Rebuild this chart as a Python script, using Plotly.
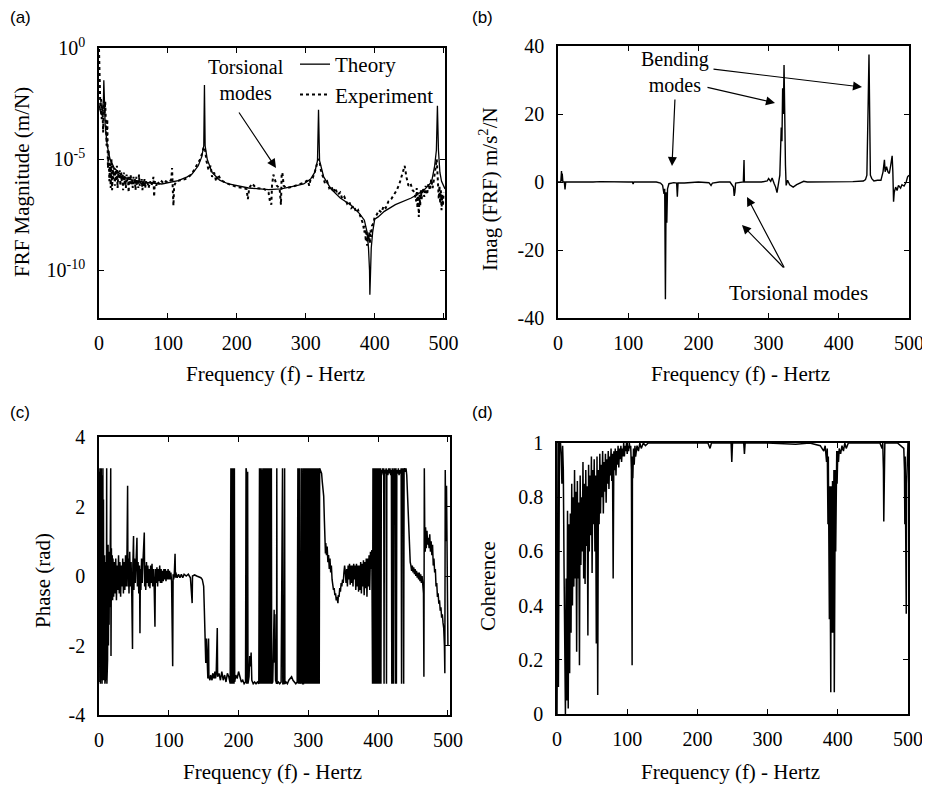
import plotly.graph_objects as go

# page body has an 8px margin, so the figure is drawn 8px smaller and coordinates shifted
OFF = 8
W, H = 930 - OFF, 788 - OFF

# ---------------- data ----------------
# (a) FRF magnitude: (frequency Hz, log10 magnitude m/N)
theory_a = [(0.5,-2.6),(3,-3.0),(5,-2.8),(6.5,-2.3),(7,-1.45),(7.5,-2.4),(9,-3.5),(12,-4.4),(16,-5.0),
    (22,-5.4),(30,-5.65),(42,-5.9),(66,-6.04),(91,-6.12),(115,-5.97),(128,-5.8),(135,-5.67),(144,-5.3),
    (149,-4.9),(152,-4.4),(153,-1.66),(154,-4.4),(157,-5.0),(164,-5.6),(175,-5.95),(188,-6.12),(217,-6.3),
    (246,-6.37),(264,-6.34),(285,-6.2),(297,-6.12),(307,-5.9),(313,-5.6),(317,-5.07),(318.5,-2.78),
    (320,-5.07),(326,-5.8),(336.5,-6.34),(350,-6.75),(365.7,-7.08),(378,-7.45),(385,-7.75),(389,-8.3),
    (391,-9.0),(392.5,-10.0),(393,-11.1),(393.5,-10.0),(395,-9.0),(397,-8.3),(400,-7.7),(405,-7.6),
    (414,-7.35),(430,-7.05),(453,-6.75),(463,-6.57),(473,-6.35),(482.5,-6.03),(487,-5.3),(489.5,-4.6),
    (491,-2.6),(492.5,-4.6),(494.6,-5.6),(497,-6.0),(502,-6.34)]

experiment_a = [(0,-0.05),(1,-2.0),(2,-2.8),(3,-2.3),(4,-3.2),(5,-2.6),(6,-3.8),(7,-2.5),(8,-3.0),(9,-2.4),
    (10,-3.6),(11,-4.4),(12,-3.2),(13,-5.4),(14,-4.6),(15,-6.0),(16,-5.2),(17,-6.3),(18,-5.0),(19,-6.4),
    (20,-5.3),(21,-5.9),(22,-5.4),(23,-6.2),(24,-5.5),(25,-6.0),(26,-5.3),(27,-6.3),(28,-5.6),(29,-5.9),
    (30,-5.5),(31,-6.2),(32,-5.6),(33,-6.0),(34,-5.7),(35,-6.4),(36,-5.6),(37,-6.1),(38,-5.8),(39,-6.3),
    (40,-5.7),(41,-6.0),(42,-5.8),(43,-6.5),(44,-5.8),(45,-6.1),(46,-5.7),(47,-6.2),(48,-5.9),(49,-6.3),
    (50,-5.8),(51,-6.1),(52,-5.9),(53,-6.4),(54,-5.8),(55,-6.2),(56,-5.9),(57,-6.3),(58,-5.7),(59,-6.2),
    (60,-6.0),(61,-6.1),(62,-5.9),(63,-6.4),(64,-6.0),(65,-6.2),(66,-5.9),(67,-6.3),(68,-6.0),(69,-6.1),
    (70,-6.0),(72,-6.3),(74,-6.0),(76,-6.2),(78,-6.0),(79,-5.8),(80,-6.7),(81,-6.0),(83,-6.2),(85,-6.0),
    (88,-6.15),(91,-6.0),(94,-6.1),(97,-6.0),(100,-6.05),(103,-6.0),(105,-5.9),(106,-5.4),(107,-6.3),
    (108,-7.1),(109,-6.2),(112,-6.0),(118,-5.95),(125,-5.9),(132,-5.75),(138,-5.5),(143,-5.2),(147,-5.0),
    (150,-4.7),(152,-4.45),(154,-4.6),(156,-5.1),(159,-5.5),(162,-5.3),(164,-5.8),(167,-5.6),(170,-6.0),
    (173,-5.7),(176,-5.9),(180,-6.0),(190,-6.15),(200,-6.25),(210,-6.3),(214,-6.35),(216,-6.8),(218,-6.3),
    (222,-6.1),(228,-6.3),(240,-6.35),(246,-6.5),(248,-6.9),(250,-7.05),(251,-6.2),(252,-5.8),(253,-5.7),
    (255,-5.9),(258,-6.2),(262,-6.3),(263,-6.9),(264,-7.05),(265,-5.7),(266,-5.6),(268,-6.2),(272,-6.3),
    (280,-6.25),(290,-6.15),(298,-6.05),(303,-5.95),(305,-6.2),(307,-5.9),(310,-5.85),(313,-5.6),
    (316,-5.3),(318,-5.0),(320,-5.1),(322,-5.5),(325,-5.8),(328,-6.1),(331,-6.0),(334,-6.3),(337,-6.2),
    (340,-6.5),(343,-6.3),(346,-6.6),(350,-6.5),(353,-6.8),(356,-6.7),(360,-7.0),(363,-6.9),(366,-7.2),
    (370,-7.1),(373,-7.4),(376,-7.3),(380,-7.6),(383,-7.9),(385,-8.3),(386,-8.0),(387,-8.7),(388,-8.2),
    (389,-8.9),(390,-8.4),(391,-8.6),(392,-8.3),(393,-8.8),(394,-8.2),(395,-8.5),(396,-8.0),(398,-7.9),
    (400,-7.6),(403,-7.5),(406,-7.3),(410,-7.4),(413,-7.1),(416,-7.2),(420,-6.9),(424,-6.8),(428,-6.6),
    (432,-6.4),(436,-6.1),(440,-5.7),(443.5,-5.3),(446,-5.8),(449,-6.2),(452,-6.1),(455,-6.4),(458,-6.5),
    (460,-6.9),(461,-6.3),(462,-7.2),(463,-6.5),(464,-7.6),(465,-6.6),(466,-7.1),(467,-6.4),(468,-6.8),
    (470,-6.3),(472,-6.7),(474,-6.2),(476,-6.6),(478,-6.1),(480,-6.4),(482,-5.9),(484,-6.3),(486,-5.9),
    (488,-5.5),(490,-5.0),(491,-5.6),(492,-6.3),(493,-6.8),(494,-6.2),(495,-7.0),(496,-6.4),(497,-7.3),
    (498,-6.6),(499,-7.1),(500,-6.5)]

# (b) Imag(FRF) m/s^2/N
imag_b = [(0,0),(4,0),(5,3.2),(5.5,0.3),(6,2.5),(7,0),(9,0),(10,-2.2),(11,0),(50,0),(60,0.1),(100,0),
    (106,0),(107,-0.6),(108,0),(140,0),(146,-0.3),(149,-1),(151,-3.5),(152,-2),(153,-34.5),(154,-3),
    (155,-12),(156,-2),(158,-0.5),(165,-0.2),(169,-0.3),(170,-4.3),(171,-0.3),(180,-0.3),(190,-0.1),
    (200,0),(215,-0.2),(218,-1),(220,-0.3),(230,0),(245,0),(250,-1.5),(251,-4.1),(252,-3),(253,-0.3),
    (260,0),(264,0),(265,6.5),(265.5,0),(268,0),(290,0),(298,0.3),(300,1.0),(303,0.2),(305,1.2),
    (308,-0.5),(310,-1.5),(312,-3.1),(314,-1),(316,2),(318,16),(319,12),(320,27.6),(321,20),(322,34.4),
    (323,12),(324,5),(325,-1),(327,0.5),(330,-0.8),(335,-1.5),(340,-0.8),(345,-0.3),(350,0.2),(355,0),
    (400,0),(420,0.1),(435,0.3),(438,0.7),(440,2),(441,10),(442,25),(443,37.5),(444,8),(445,2),(447,1),
    (450,0.3),(455,0.5),(460,0.5),(463,3),(465,6.5),(466,3),(468,4.5),(470,3),(472,2.5),(474,5),
    (476,7.7),(477,3),(478,-5.8),(479,-3),(481,-1.5),(483,-2.5),(485,-1),(488,-1.8),(490,-0.8),
    (493,-1.2),(496,0),(498,1.5),(500,2)]

# (c) Phase (rad)
phase_c = [(0,3.1),(0.4,-3.0),(0.8,3.1),(1.2,-3.05),(1.6,3.0),(2.0,-3.1),(2.4,3.1),(2.8,-3.0),(3.2,3.1),
    (3.6,-2.9),(4.0,3.0),(4.4,-3.1),(4.8,2.9),(5.2,-3.0),(5.6,3.1),(6.0,-2.8),(6.4,2.2),(6.8,-3.0),
    (7.2,1.2),(7.6,-2.6),(8,0.6),(8.5,-3.1),(9,-0.2),(9.5,-2.9),(10,0.4),(10.5,-2.2),(11,3.1),(11.3,-3.1),
    (11.8,-1.0),(12.3,-2.4),(13,0.9),(13.5,-2.0),(14,0.2),(14.5,-1.4),(15,0.7),(15.5,-0.9),(16,0.4),
    (16.8,3.1),(17.2,-2.3),(17.8,0.8),(18.3,-0.6),(19,0.6),(19.5,-0.7),(20,0.5),
    (21,-0.6),(22,0.4),(23,-0.5),(24,0.5),(25,-0.7),(26,0.3),(27,-0.4),(28,0.6),(29,-0.5),(30,0.4),
    (31,-0.6),(32,0.3),(33,-0.3),(34,0.5),(35,-0.5),(36,0.4),(37,-0.4),(38,0.6),(39,-0.3),(40,0.4),
    (41,2.6),(41.5,-0.3),(42,0.5),(43,-0.5),(44,0.7),(45,-0.3),(46,0.4),(47,-0.6),(48,-2.1),(48.5,0.3),
    (49.5,1.15),(50,-0.4),(51,0.5),(52,-0.2),(53,0.6),(54.4,1.1),(55,-0.3),(56,0.4),(57,-0.5),(58,0.3),
    (58.7,-1.65),(59.3,0.2),(60,-0.4),(61,0.5),(62,-0.2),(63,0.4),(64.9,1.25),(65.5,-0.3),(66,0.3),
    (67,-0.4),(68,0.4),(69,-0.2),(70,0.3),(71,-0.3),(72,0.2),(73,-0.35),(74,0.3),(75,-0.2),(76,0.35),
    (77,-0.3),(78,0.2),(79,-0.25),(80.2,-1.46),(80.8,0.2),(82,-0.2),(83,0.25),(84,-0.3),(85,0.2),
    (86,-0.15),(87,0.3),(88,-0.2),(89,0.2),(90,-0.2),(91,0.15),(92,-0.15),(93,0.2),(94,-0.1),(95,0.2),
    (96,-0.15),(97,0.15),(98,-0.1),(99,0.2),(100,-0.1),(101,0.15),(102,-0.1),(103,0.1),(104,-0.15),
    (105.6,-2.6),(106.2,0.05),(107,-0.1),(108,0.1),(109,0.64),(109.6,-0.05),(110,0.1),(112,-0.05),
    (114,0.05),(116,-0.05),(118,0.05),(120,-0.05),(122,0.05),(125,0),(128,0.05),(131,-0.05),
    (133.5,-0.78),(134,0),(137,0.03),(140,0),(143,-0.02),(146,-0.05),(148,-0.1),(150,-0.3),(151,-1.0),
    (152,-2.0),(153,-2.5),(154,-1.8),(155,-2.8),(156,-2.95),(157,-1.8),(157.5,-2.9),(159,-3.0),
    (160,-2.85),(162,-3.0),(163,-2.8),(165,-2.95),(166,-2.75),(167,-2.95),(168,-2.8),(169.5,-1.5),
    (170,-2.9),(172,-2.8),(174,-3.0),(176,-2.75),(178,-3.0),(180,-2.85),(182,-3.05),(184,-2.8),
    (186,-2.9),(188,-3.1),
    (189,3.1),(189.5,-3.1),(190,3.1),(190.5,-3.1),(191,3.1),(191.5,-3.1),(192,3.1),(192.5,-3.1),
    (193,3.1),(193.5,-3.1),(194,3.1),(194.5,-3.05),
    (196,-2.85),(198,-2.95),(200,-2.75),(202,-2.9),(204,-3.05),(206,-3.0),(208,-3.1),(210,-3.05),
    (210.7,3.1),(211.2,3.05),(211.7,-3.1),(212.5,-3.0),(213,3.0),(213.5,-3.1),(215,-2.9),(216,-2.3),
    (217,-2.6),(218,-2.2),(219,-3.0),(221,-3.1),(223,-3.05),(225,-3.1),(227,-3.05),(229,-3.1),
    (230,3.1),(230.6,-3.1),(231.2,3.1),(231.8,-3.1),(232.4,3.1),(233,-3.1),(233.6,3.05),(234.2,-3.1),
    (234.8,3.1),(235.4,-3.1),(236,3.1),(236.6,-3.1),(237.2,3.1),(237.8,-3.1),(238.4,3.1),(239,-3.1),
    (239.6,3.1),(240.2,-3.1),(240.8,3.1),(241.4,-3.1),(242,3.1),(242.6,-3.1),(243.2,3.1),(243.8,-3.1),
    (244.4,3.1),(245,-3.1),(245.6,3.1),(246.2,-3.1),(247,3.1),(247.5,-3.1),(249,-3.05),(250,-2.0),
    (251,-0.97),(251.5,-2.5),(252,-1.1),(253,-3.0),(254.5,-3.1),(254.8,3.1),(255.2,-3.1),(257,-3.05),
    (259,-3.1),(261,-3.05),(263,3.1),(263.4,-3.1),(265,-3.1),(266,3.1),(266.4,-3.1),(268,-3.05),
    (270,-3.1),(272,-3.0),(274,-2.95),(276,-2.9),(278,-3.0),(280,-3.05),(282,-3.1),(284,-3.05),
    (285,3.1),(285.6,-3.1),(286.2,3.1),(286.8,-3.1),(287.4,3.1),(288,-3.1),(289.5,-3.05),(290,3.1),
    (290.6,-3.1),(291.2,3.1),(291.8,-3.1),(293,-3.1),(293.4,3.1),(294,-3.1),(294.6,3.1),(295.2,-3.1),
    (295.8,3.1),(296.4,-3.1),(297,3.1),(297.6,-3.1),(298.2,3.1),(298.8,-3.1),(299.4,3.1),(300,-3.1),
    (300.6,3.1),(301.2,-3.1),(301.8,3.1),(302.4,-3.1),(303,3.1),(303.6,-3.1),(304.2,3.1),(304.8,-3.1),
    (305.4,3.1),(306,-3.1),(306.6,3.1),(307.2,-3.1),(307.8,3.1),(308.4,-3.1),(309,3.1),(309.6,-3.1),
    (310.2,3.1),(310.8,-3.1),(311.4,3.1),(312,-3.1),(312.6,3.1),(313.2,-3.1),(313.8,3.1),(314.4,-3.1),
    (315,3.1),(315.6,-3.1),(316.2,3.1),(317,3.05),(318,3.0),(319,2.95),(320,2.7),(321,2.5),(322,2.3),
    (323,1.6),(324,0.9),(324.5,0.65),(325,0.95),(326,0.6),(327,0.85),(328,0.4),(329,0.6),(330,0.2),
    (331,0.5),(332,0.1),(333,0.3),(334,-0.1),(335,-0.2),(336,-0.4),(337,-0.35),(338,-0.55),(339,-0.5),
    (340,-0.7),(341,-0.6),(342.4,-0.78),(343,-0.55),(344,-0.6),(345,-0.35),(346,-0.45),(347,-0.2),
    (348,-0.3),(349,-0.1),(350,-0.2),(351,0.1),(352,0.3),(353,0.1),(354,-0.2),(355,0.2),(356,-0.3),
    (357,0.3),(358,-0.1),(359,0.35),(360,-0.25),(361,0.3),(362,-0.2),(363,0.3),(364,-0.3),(365,0.35),
    (366,-0.1),(367,0.3),(368,-0.4),(369,0.35),(370,-0.3),(371,0.3),(372,-0.45),(373,0.3),(374,-0.4),
    (375,0.4),(376,-0.5),(377,0.35),(378,-0.3),(379,0.45),(380,-0.55),(381,0.4),(382,-0.35),(383,0.5),
    (384,-0.6),(385,0.5),(386,-0.3),(387,0.6),(388,-0.4),(389,0.7),(390,0.2),(391,0.75),
    (392,-3.1),(392.6,3.1),(393.2,-3.1),(393.8,3.1),(394.4,-3.1),(395,3.1),(395.6,-3.1),(396.2,3.1),
    (396.8,-3.1),(397.4,3.1),(398,-3.1),(398.6,3.1),(399.2,-3.1),(399.8,3.1),(400.4,-3.1),(401,3.1),
    (401.6,-3.1),(402.2,3.1),(402.8,-3.1),(403.4,3.1),(404,-3.1),(404.6,3.05),(405.5,2.95),(406.5,3.1),
    (407.5,2.9),(408,3.1),(408.5,-3.1),(409,3.05),(410.5,2.95),(411.5,3.1),(412,-3.1),(412.5,3.05),
    (414,2.9),(415,3.1),(416,2.95),(417,3.1),(418,2.9),(419,3.05),(419.6,-3.1),(420.2,3.1),(420.8,-3.1),
    (421.4,3.05),(422,-3.1),(422.6,3.1),(423.5,2.95),(424.5,3.1),(425,-3.1),(425.6,3.1),(426.2,-3.1),
    (426.8,3.05),(428,2.95),(429,3.1),(430,2.9),(431,3.05),(432,2.95),(433,3.1),(433.6,-3.1),(434.2,3.1),
    (435,2.95),(436,3.1),(436.6,-3.1),(437.2,3.05),(438,3.1),(439,3.0),(440,3.1),(441,2.9),(442,2.4),
    (443,1.8),(444,1.2),(445,0.7),(446,0.4),(447,0.3),(448,0.15),(449,0.3),(450,0.1),(451,0.25),
    (452,0.05),(453,0.2),(454,0.0),(455,0.15),(456,-0.05),(457,0.1),(458,-0.1),(459,0.1),(460,-0.15),
    (461,0.05),(462,-0.2),(463,0.0),(464,-0.3),(465,-0.5),(465.6,-2.9),(466.2,3.1),(466.8,1.3),
    (467.5,0.7),(468,1.4),(469,0.8),(470,1.3),(471,0.9),(472,1.1),(473,0.8),(474,1.2),(475,0.7),
    (476,1.0),(477,0.6),(478,0.9),(479,0.3),(480,0.5),(481,0.1),(482,0.2),(483,-0.3),(484,-0.2),
    (485,-0.6),(486,-0.5),(487,-0.8),(488,-0.7),(489,-1.0),(490,-0.9),(491,-1.2),(492,-1.1),
    (493,-1.35),(494,-1.5),(495,-2.0),(495.6,-2.8),(496.2,3.05),(497,1.0),(498,2.6),(499,-0.5),(500,-2.0)]

# (d) Coherence
coherence_d = [(0,0.0),(0.5,1.0),(1,0.05),(1.5,1.0),(2,0.1),(2.5,0.9),(3,0.6),(3.5,1.0),(4,0.98),(5,1.0),
    (6,0.95),(7,0.85),(8,0.99),(9,0.9),(10,0.55),(11,0.3),(12,0.0),(13,0.5),(14,0.05),(15,0.75),
    (16,0.02),(17,0.7),(18,0.15),(19,0.74),(20,0.3),(21,0.85),(22,0.4),(23,0.8),(24,0.47),(25,0.9),
    (26,0.5),(27,0.82),(28,0.23),(29,0.86),(30,0.5),(31,0.78),(32,0.18),(33,0.88),(34,0.55),(35,0.8),
    (36,0.6),(37,0.93),(38,0.5),(39,0.85),(40,0.48),(41,0.9),(42,0.62),(43,0.84),(44,0.29),(45,0.92),
    (46,0.6),(47,0.88),(48,0.66),(49,0.95),(50,0.52),(51,0.9),(52,0.7),(53,0.94),(54,0.6),(55,0.88),
    (56,0.26),(57,0.95),(58,0.07),(59,0.9),(60,0.7),(61,0.96),(62,0.74),(63,0.92),(64,0.8),(65,0.97),
    (66,0.74),(67,0.93),(68,0.82),(69,0.96),(70,0.78),(71,0.94),(72,0.85),(73,0.97),(74,0.83),(75,0.95),
    (76,0.88),(77,0.98),(78,0.86),(79,0.96),(80,0.5),(81,0.97),(82,0.9),(83,0.98),(84,0.88),(85,0.97),
    (86,0.92),(87,0.99),(88,0.91),(89,0.98),(90,0.94),(91,0.99),(92,0.93),(93,0.98),(94,0.95),(95,1.0),
    (96,0.95),(97,0.99),(98,0.97),(99,1.0),(100,0.96),(101,0.99),(102,0.97),(103,1.0),(104,0.98),
    (105,0.99),(106,0.9),(107,0.18),(107.5,0.95),(108,0.87),(109,0.98),(110,0.92),(111,0.99),(112,0.95),
    (114,0.99),(116,0.97),(118,1.0),(120,0.98),(123,1.0),(126,0.99),(130,1.0),(200,1.0),(215,1.0),
    (218,0.98),(220,1.0),(240,1.0),(248,1.0),(249,0.93),(250,1.0),(266,1.0),(267,0.96),(268,1.0),
    (300,1.0),(340,0.995),(360,1.0),(375,0.99),(380,0.97),(382,0.99),(384,0.93),(385,0.98),(386,0.7),
    (386.5,0.95),(387,0.6),(387.5,0.84),(388,0.35),(388.5,0.84),(389,0.25),(389.5,0.82),(390,0.08),
    (390.5,0.84),(391,0.3),(391.5,0.84),(392,0.4),(392.5,0.86),(393,0.3),(393.5,0.88),(394,0.45),
    (394.5,0.9),(395,0.08),(395.5,0.85),(396,0.5),(396.5,0.9),(397,0.6),(397.5,0.95),(398,0.75),
    (398.5,0.97),(399,0.85),(400,0.97),(401,0.93),(402,0.98),(404,0.96),(406,0.99),(408,0.97),
    (410,1.0),(412,0.98),(415,1.0),(460,1.0),(463,0.98),(464,1.0),(465,0.9),(465.5,0.71),(466,0.95),
    (466.5,0.8),(467,1.0),(485,1.0),(490,0.99),(494,0.98),(495,0.9),(495.5,0.7),(496,0.95),(496.5,0.5),
    (497,0.9),(497.5,0.37),(498,0.85),(499,0.97),(500,1.0)]

log_ticks_a = [0, -5, -10]
ticks_b = [-40, -20, 0, 20, 40]
ticks_c = [-4, -2, 0, 2, 4]
ticks_d = [0, 0.2, 0.4, 0.6, 0.8, 1]
freq_ticks = [0, 100, 200, 300, 400, 500]

# ---------------- figure ----------------
SERIF = "Liberation Serif"
SANS = "Liberation Sans"


def unzip(pairs):
    return [p[0] for p in pairs], [p[1] for p in pairs]


def P(x, y):
    # screen pixel (in the 930x788 window) -> paper coordinates
    return (x - OFF) / W, 1 - (y - OFF) / H


fig = go.Figure()
tf, te = unzip(theory_a)
ef, ee = unzip(experiment_a)
fig.add_trace(go.Scatter(x=tf, y=[10 ** e for e in te], mode="lines", name="Theory",
                         line=dict(color="black", width=1.3), xaxis="x", yaxis="y"))
fig.add_trace(go.Scatter(x=ef, y=[10 ** e for e in ee], mode="lines", name="Experiment",
                         line=dict(color="black", width=2, dash="dot"), xaxis="x", yaxis="y"))
bf, bv = unzip(imag_b)
fig.add_trace(go.Scatter(x=bf, y=bv, mode="lines", showlegend=False,
                         line=dict(color="black", width=1.4), xaxis="x2", yaxis="y2"))
cf, cv = unzip(phase_c)
fig.add_trace(go.Scatter(x=cf, y=cv, mode="lines", showlegend=False,
                         line=dict(color="black", width=1.5), xaxis="x3", yaxis="y3"))
df, dv = unzip(coherence_d)
fig.add_trace(go.Scatter(x=df, y=dv, mode="lines", showlegend=False,
                         line=dict(color="black", width=1.5), xaxis="x4", yaxis="y4"))

tickfont = dict(family=SERIF, size=20, color="black")
common = dict(showline=True, linecolor="black", linewidth=1.5, mirror="ticks", ticks="inside",
              ticklen=5, tickcolor="black", tickwidth=1, showgrid=False, zeroline=False,
              tickfont=tickfont, automargin=False)


def xax(dom, anchor, rng):
    return dict(common, domain=dom, anchor=anchor, range=rng, tickvals=freq_ticks,
                ticklabelstandoff=6)


dom_a_x = [P(99, 0)[0], P(445, 0)[0]]
dom_a_y = [P(0, 318)[1], P(0, 48)[1]]
dom_b_x = [P(558, 0)[0], P(909, 0)[0]]
dom_b_y = [P(0, 318)[1], P(0, 46)[1]]
dom_c_x = [P(99, 0)[0], P(450, 0)[0]]
dom_c_y = [P(0, 715)[1], P(0, 437)[1]]
dom_d_x = [P(557, 0)[0], P(908, 0)[0]]
dom_d_y = [P(0, 714)[1], P(0, 443)[1]]

fig.update_layout(
    template="none",
    width=W, height=H, margin=dict(l=0, r=0, t=0, b=0, autoexpand=False),
    paper_bgcolor="white", plot_bgcolor="white",
    xaxis=xax(dom_a_x, "y", [0, 502]),
    yaxis=dict(common, domain=dom_a_y, anchor="x", type="log", range=[-12.15, 0],
               tickvals=[10 ** t for t in log_ticks_a],
               ticktext=["10<sup>%d</sup>" % t for t in log_ticks_a], ticklabelstandoff=8),
    xaxis2=xax(dom_b_x, "y2", [0, 500]),
    yaxis2=dict(common, domain=dom_b_y, anchor="x2", range=[-40, 40], tickvals=ticks_b,
                ticktext=[str(t) for t in ticks_b], ticklabelstandoff=8),
    xaxis3=xax(dom_c_x, "y3", [0, 503]),
    yaxis3=dict(common, domain=dom_c_y, anchor="x3", range=[-4, 4], tickvals=ticks_c,
                ticktext=[str(t) for t in ticks_c], ticklabelstandoff=8),
    xaxis4=xax(dom_d_x, "y4", [0, 500]),
    yaxis4=dict(common, domain=dom_d_y, anchor="x4", range=[0, 1], tickvals=ticks_d,
                ticktext=[("%g" % t) for t in ticks_d], ticklabelstandoff=8),
    legend=dict(x=P(295, 0)[0], y=P(0, 44)[1], xanchor="left", yanchor="top",
                bgcolor="rgba(0,0,0,0)", font=dict(family=SERIF, size=21, color="black"),
                tracegroupgap=0, itemwidth=30, borderwidth=0),
    showlegend=True,
)

annotations = []


def text(t, x, y, size=21, family=SERIF, xanchor="center", angle=0):
    xx, yy = P(x, y)
    annotations.append(dict(text=t, x=xx, y=yy, xref="paper", yref="paper", showarrow=False,
                            xanchor=xanchor, yanchor="middle", textangle=angle,
                            font=dict(family=family, size=size, color="black")))


def arrow(tip, tail):
    xx, yy = P(*tip)
    annotations.append(dict(text="", x=xx, y=yy, xref="paper", yref="paper", showarrow=True,
                            ax=tail[0] - tip[0], ay=tail[1] - tip[1], arrowhead=2,
                            arrowsize=1.5, arrowwidth=1.2, arrowcolor="black"))


# panel letters
text("(a)", 8, 18, size=17, family=SANS, xanchor="left")
text("(b)", 470, 18, size=17, family=SANS, xanchor="left")
text("(c)", 8, 412, size=17, family=SANS, xanchor="left")
text("(d)", 470, 412, size=17, family=SANS, xanchor="left")

# axis titles
XT = "Frequency (f) - Hertz"
text(XT, 275, 374)
text(XT, 740, 374)
text(XT, 272, 772)
text(XT, 730, 772)
text("FRF Magnitude (m/N)", 22, 182, angle=-90)
text("Imag (FRF) m/s<sup>2</sup>/N", 488, 189, angle=-90)
text("Phase (rad)", 43, 581, angle=-90)
text("Coherence", 488, 586, angle=-90)

# (a)
text("Torsional<br>modes", 246, 80, size=20)
arrow((276, 168), (238, 111))

# (b)
text("Bending<br>modes", 675, 72, size=20)
arrow((672, 166), (675, 98))
arrow((775, 103), (706, 87))
arrow((862, 87), (712, 69))
text("Torsional modes", 798, 293)
arrow((747, 197), (785, 269))
arrow((742, 225), (785, 269))

fig.update_layout(annotations=annotations)
fig.write_html("out.html")
